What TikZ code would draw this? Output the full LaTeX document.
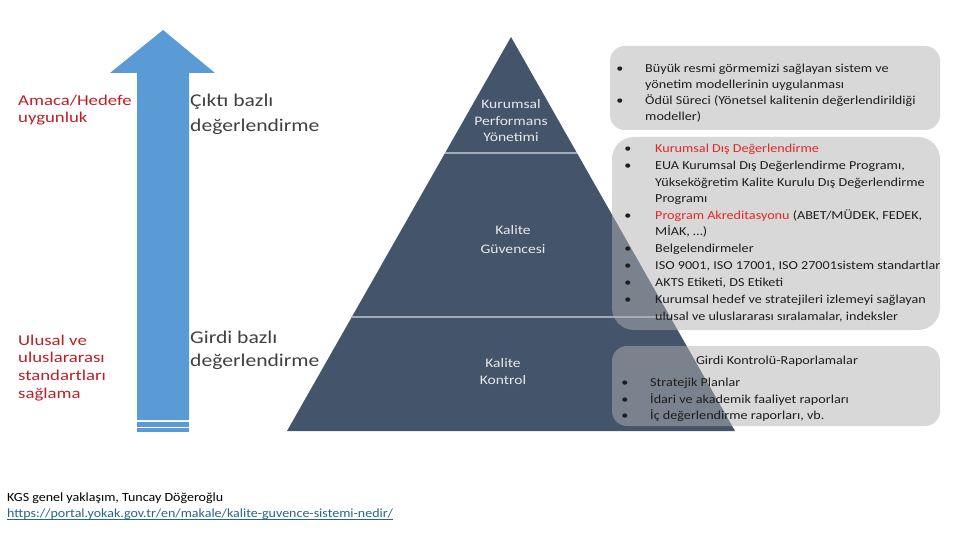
\documentclass[tikz,border=0pt]{standalone}
\usepackage{fontspec}
\setmainfont{Carlito}
\newfontfamily\boxf{Carlito}[FakeStretch=1.16]
\newfontfamily\pyrf{Carlito}[FakeStretch=1.2]
\newfontfamily\redf{Carlito}[FakeStretch=1.25]
\newfontfamily\grayf{Carlito}[FakeStretch=1.2]
\newfontfamily\footf{Carlito}[FakeStretch=1.12]
\definecolor{arrowblue}{RGB}{91,155,213}
\definecolor{pyr}{RGB}{68,84,106}
\definecolor{divcol}{RGB}{160,170,185}
\definecolor{boxgray}{RGB}{177,177,177}
\definecolor{boxtext}{RGB}{30,30,30}
\definecolor{boxred}{RGB}{228,40,40}
\definecolor{labred}{RGB}{190,30,40}
\definecolor{labgray}{RGB}{64,64,64}
\definecolor{pyrtext}{RGB}{232,232,232}
\definecolor{urlblue}{RGB}{40,100,140}
\tikzset{
  boxfill/.style={fill=boxgray, fill opacity=0.5},
  divider/.style={draw=divcol, line width=1.6pt},
  item/.style={anchor=base west, inner sep=0pt, text=boxtext, font=\boxf\fontsize{12.2}{14}\selectfont},
  bul/.style={anchor=base, inner sep=0pt, text=boxtext, font=\boxf\fontsize{12.2}{14}\selectfont},
  pyrlab/.style={anchor=base, inner sep=0pt, text=pyrtext, font=\pyrf\fontsize{13}{15}\selectfont},
  redlab/.style={anchor=base west, inner sep=0pt, text=labred, font=\redf\fontsize{15}{17}\selectfont},
  graylab/.style={anchor=base west, inner sep=0pt, text=labgray, font=\grayf\fontsize{18}{20}\selectfont},
  foot/.style={anchor=base west, inner sep=0pt, text=black, font=\footf\fontsize{12.5}{15}\selectfont}
}
\begin{document}
\begin{tikzpicture}[x=1pt,y=-1pt]
\useasboundingbox (0,0) rectangle (960,540);
% arrow
\fill[arrowblue] (163,30) -- (215,73) -- (189,73) -- (189,420) -- (137,420) -- (137,73) -- (110,73) -- cycle;
\fill[arrowblue] (137,422) rectangle (189,426.5);
\fill[arrowblue] (137,428) rectangle (189,432);
% pyramid
\fill[pyr] (511,37) -- (735,431) -- (287,431) -- cycle;
\draw[divider] (445,153) -- (577,153);
\draw[divider] (352,317) -- (670,317);
% boxes
\fill[boxfill, rounded corners=15pt] (610,46) rectangle (940,130);
\fill[boxfill, rounded corners=22pt] (612,137) rectangle (940,330);
\fill[boxfill, rounded corners=15pt] (612,346) rectangle (940,426);
% pyramid labels
\node[pyrlab] (p1a) at (511,109) {Kurumsal};
\node[pyrlab] (p1b) at (511,126) {Performans};
\node[pyrlab] (p1c) at (511,142) {Yönetimi};
\node[pyrlab] (p2a) at (513,234) {Kalite};
\node[pyrlab] (p2b) at (513,253) {Güvencesi};
\node[pyrlab] (p3a) at (503,367) {Kalite};
\node[pyrlab] (p3b) at (503,384) {Kontrol};
% left labels
\node[redlab] (r1a) at (18,106) {Amaca/Hedefe};
\node[redlab] (r1b) at (18,123) {uygunluk};
\node[redlab] (r2a) at (18,345) {Ulusal ve};
\node[redlab] (r2b) at (18,362.5) {uluslararası};
\node[redlab] (r2c) at (18,380) {standartları};
\node[redlab] (r2d) at (18,398) {sağlama};
\node[graylab] (g1a) at (190,107) {Çıktı bazlı};
\node[graylab] (g1b) at (190,132) {değerlendirme};
\node[graylab] (g2a) at (190,343) {Girdi bazlı};
\node[graylab] (g2b) at (190,366) {değerlendirme};
% box 1
\node[bul] (b1u1) at (620,73) {•};
\node[item] (b1l1) at (645,73) {Büyük resmi görmemizi sağlayan sistem ve};
\node[item] (b1l2) at (645,89) {yönetim modellerinin uygulanması};
\node[bul] (b1u2) at (620,105) {•};
\node[item] (b1l3) at (645,105) {Ödül Süreci (Yönetsel kalitenin değerlendirildiği};
\node[item] (b1l4) at (645,121) {modeller)};
% box 2
\node[bul] (b2u1) at (628,153) {•};
\node[item, text=boxred] (b2l1) at (655,153) {Kurumsal Dış Değerlendirme};
\node[bul] (b2u2) at (628,170) {•};
\node[item] (b2l2) at (655,170) {EUA Kurumsal Dış Değerlendirme Programı,};
\node[item] (b2l3) at (655,186) {Yükseköğretim Kalite Kurulu Dış Değerlendirme};
\node[item] (b2l4) at (655,202) {Programı};
\node[bul] (b2u3) at (628,219) {•};
\node[item] (b2l5) at (655,219) {\textcolor{boxred}{Program Akreditasyonu} (ABET/MÜDEK, FEDEK,};
\node[item] (b2l6) at (655,235) {MİAK, …)};
\node[bul] (b2u4) at (628,252) {•};
\node[item] (b2l7) at (655,252) {Belgelendirmeler};
\node[bul] (b2u5) at (628,269) {•};
\node[item] (b2l8) at (655,269) {ISO 9001, ISO 17001, ISO 27001sistem standartlar};
\node[bul] (b2u6) at (628,286) {•};
\node[item] (b2l9) at (655,286) {AKTS Etiketi, DS Etiketi};
\node[bul] (b2u7) at (628,303) {•};
\node[item] (b2l10) at (655,303) {Kurumsal hedef ve stratejileri izlemeyi sağlayan};
\node[item] (b2l11) at (655,320) {ulusal ve uluslararası sıralamalar, indeksler};
% box 3
\node[bul, anchor=base] (b3t) at (777,364) {Girdi Kontrolü-Raporlamalar};
\node[bul] (b3u1) at (625,386) {•};
\node[item] (b3l1) at (650,386) {Stratejik Planlar};
\node[bul] (b3u2) at (625,403) {•};
\node[item] (b3l2) at (650,403) {İdari ve akademik faaliyet raporları};
\node[bul] (b3u3) at (625,419) {•};
\node[item] (b3l3) at (650,419) {İç değerlendirme raporları, vb.};
% footer
\node[foot] (f1) at (7,501) {KGS genel yaklaşım, Tuncay Döğeroğlu};
\node[foot, text=urlblue] (f2) at (7,517) {https://portal.yokak.gov.tr/en/makale/kalite-guvence-sistemi-nedir/};
\draw[urlblue, line width=0.7pt] (f2.base west) ++(0,2) -- ([yshift=-2pt]f2.base east);
\end{tikzpicture}
\end{document}
